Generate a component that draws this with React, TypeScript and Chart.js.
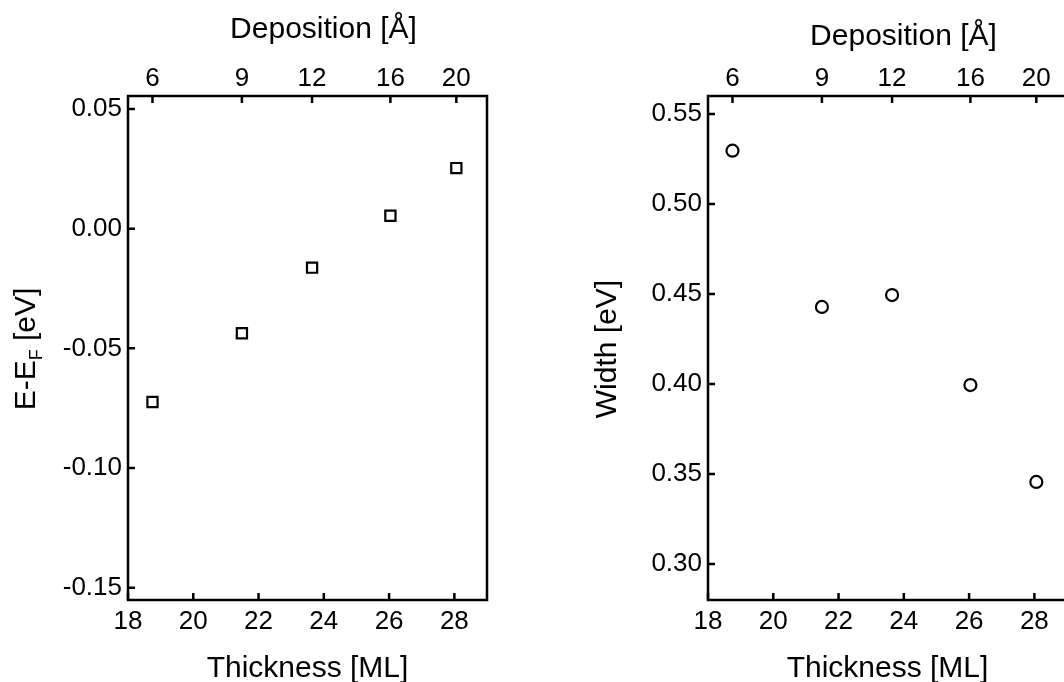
import React, { useEffect, useRef } from 'react';
import { Chart, registerables } from 'chart.js';

Chart.register(...registerables);

// ---- data ----
const thicknessML = [18.75, 21.49, 23.64, 26.04, 28.06];
const depositionLabels = ['6', '9', '12', '16', '20'];
const energyEV = [-0.0724, -0.0437, -0.0163, 0.0054, 0.0253];
const widthEV = [0.5296, 0.4428, 0.4494, 0.3994, 0.3456];
const thicknessTicks = [18, 20, 22, 24, 26, 28];
const energyTicks = [-0.15, -0.1, -0.05, 0, 0.05];
const widthTicks = [0.3, 0.35, 0.4, 0.45, 0.5, 0.55];

const FONT = "'Liberation Sans', Arial, sans-serif";

type TitlePart = { text: string; sub?: boolean };

const framePlugin = {
  id: 'frameTitles',
  afterDraw(chart: any, _args: any, opts: any) {
    const { ctx, chartArea: a } = chart;
    ctx.save();
    ctx.strokeStyle = '#000';
    ctx.lineWidth = 2.5;
    ctx.strokeRect(a.left, a.top, a.right - a.left, a.bottom - a.top);
    const TL = 7;
    ctx.beginPath();
    const y = chart.scales.y;
    for (const t of y.ticks) {
      const p = y.getPixelForValue(t.value);
      ctx.moveTo(a.left, p);
      ctx.lineTo(a.left + TL, p);
    }
    const x = chart.scales.x;
    for (const t of x.ticks) {
      const p = x.getPixelForValue(t.value);
      ctx.moveTo(p, a.bottom);
      ctx.lineTo(p, a.bottom - TL);
    }
    const x2 = chart.scales.x2;
    for (const t of x2.ticks) {
      const p = x2.getPixelForValue(t.value);
      ctx.moveTo(p, a.top);
      ctx.lineTo(p, a.top + TL);
    }
    ctx.stroke();

    ctx.fillStyle = '#000';
    const cx = (a.left + a.right) / 2;
    ctx.font = `30px ${FONT}`;
    ctx.textAlign = 'center';
    ctx.textBaseline = 'alphabetic';
    ctx.fillText(opts.xTitle, cx, 677);
    ctx.textBaseline = 'middle';
    ctx.fillText(opts.x2Title, cx + 16, opts.x2TitleY);
    const parts: TitlePart[] = opts.yTitle;
    ctx.save();
    ctx.translate(opts.yTitleX, (a.top + a.bottom) / 2 + 1);
    ctx.rotate(-Math.PI / 2);
    ctx.textAlign = 'left';
    ctx.textBaseline = 'alphabetic';
    let total = 0;
    const widths: number[] = [];
    for (const pt of parts) {
      ctx.font = pt.sub ? `18px ${FONT}` : `30px ${FONT}`;
      const w = ctx.measureText(pt.text).width;
      widths.push(w);
      total += w;
    }
    let xx = -total / 2;
    parts.forEach((pt, i) => {
      ctx.font = pt.sub ? `18px ${FONT}` : `30px ${FONT}`;
      ctx.fillText(pt.text, xx, pt.sub ? 7 : 0);
      xx += widths[i];
    });
    ctx.restore();
    ctx.restore();
  },
};

function makeConfig(p: {
  values: number[];
  yMin: number;
  yMax: number;
  yTicks: number[];
  pointStyle: string;
  radius: number;
  yTitle: TitlePart[];
  yTitleX: number;
  x2TitleY: number;
}) {
  const tickFont = { family: FONT, size: 26 };
  return {
    type: 'scatter',
    data: {
      datasets: [
        {
          data: thicknessML.map((t, i) => ({ x: t, y: p.values[i] })),
          pointStyle: p.pointStyle,
          pointRadius: p.radius,
          pointHoverRadius: p.radius,
          borderColor: '#000',
          backgroundColor: 'rgba(255,255,255,0)',
          borderWidth: 2.2,
          pointBorderWidth: 2.2,
          pointHoverBorderWidth: 2.2,
          showLine: false,
        },
      ],
    },
    options: {
      animation: false,
      responsive: false,
      devicePixelRatio: 1,
      layout: { padding: { left: 0, right: 45, top: 0, bottom: 0 } },
      plugins: {
        legend: { display: false },
        tooltip: { enabled: false },
        frameTitles: {
          xTitle: 'Thickness [ML]',
          x2Title: 'Deposition [Å]',
          x2TitleY: p.x2TitleY,
          yTitle: p.yTitle,
          yTitleX: p.yTitleX,
        },
      },
      scales: {
        x: {
          type: 'linear',
          position: 'bottom',
          min: 18,
          max: 29,
          grid: { display: false, drawTicks: false },
          border: { display: false },
          afterBuildTicks: (s: any) => {
            s.ticks = thicknessTicks.map((v) => ({ value: v }));
          },
          afterFit: (s: any) => {
            s.height = 82;
          },
          ticks: {
            color: '#000',
            font: tickFont,
            padding: 6,
            autoSkip: false,
            maxRotation: 0,
            callback: (v: any) => String(v),
          },
        },
        x2: {
          type: 'linear',
          position: 'top',
          min: 18,
          max: 29,
          grid: { display: false, drawTicks: false },
          border: { display: false },
          afterBuildTicks: (s: any) => {
            s.ticks = thicknessML.map((v) => ({ value: v }));
          },
          afterFit: (s: any) => {
            s.height = 96;
          },
          ticks: {
            color: '#000',
            font: tickFont,
            padding: 2,
            autoSkip: false,
            maxRotation: 0,
            callback: (_v: any, i: number) => depositionLabels[i],
          },
        },
        y: {
          type: 'linear',
          position: 'left',
          min: p.yMin,
          max: p.yMax,
          grid: { display: false, drawTicks: false },
          border: { display: false },
          afterBuildTicks: (s: any) => {
            s.ticks = p.yTicks.map((v) => ({ value: v }));
          },
          afterFit: (s: any) => {
            s.width = 128;
          },
          ticks: {
            color: '#000',
            font: tickFont,
            padding: 6,
            autoSkip: false,
            callback: (v: any) => Number(v).toFixed(2),
          },
        },
      },
    },
    plugins: [framePlugin],
  } as any;
}

function Panel(props: { left: number; cfg: any }) {
  const ref = useRef<HTMLCanvasElement>(null);
  useEffect(() => {
    if (!ref.current) return;
    const chart = new Chart(ref.current, props.cfg);
    return () => chart.destroy();
  }, []);
  return (
    <canvas
      ref={ref}
      width={532}
      height={682}
      style={{ position: 'absolute', left: props.left, top: 0, width: 532, height: 682 }}
    />
  );
}

export default function App() {
  const leftCfg = makeConfig({
    values: energyEV,
    yMin: -0.1551,
    yMax: 0.0554,
    yTicks: energyTicks,
    pointStyle: 'rect',
    radius: 7.2,
    yTitle: [{ text: 'E-E' }, { text: 'F', sub: true }, { text: ' [eV]' }],
    yTitleX: 35,
    x2TitleY: 30,
  });
  const rightCfg = makeConfig({
    values: widthEV,
    yMin: 0.28,
    yMax: 0.56,
    yTicks: widthTicks,
    pointStyle: 'circle',
    radius: 6,
    yTitle: [{ text: 'Width [eV]' }],
    yTitleX: 36,
    x2TitleY: 37,
  });
  return (
    <div
      style={{
        position: 'fixed',
        left: 0,
        top: 0,
        width: 1064,
        height: 682,
        overflow: 'hidden',
        background: '#fff',
      }}
    >
      <Panel left={0} cfg={leftCfg} />
      <Panel left={580} cfg={rightCfg} />
    </div>
  );
}
